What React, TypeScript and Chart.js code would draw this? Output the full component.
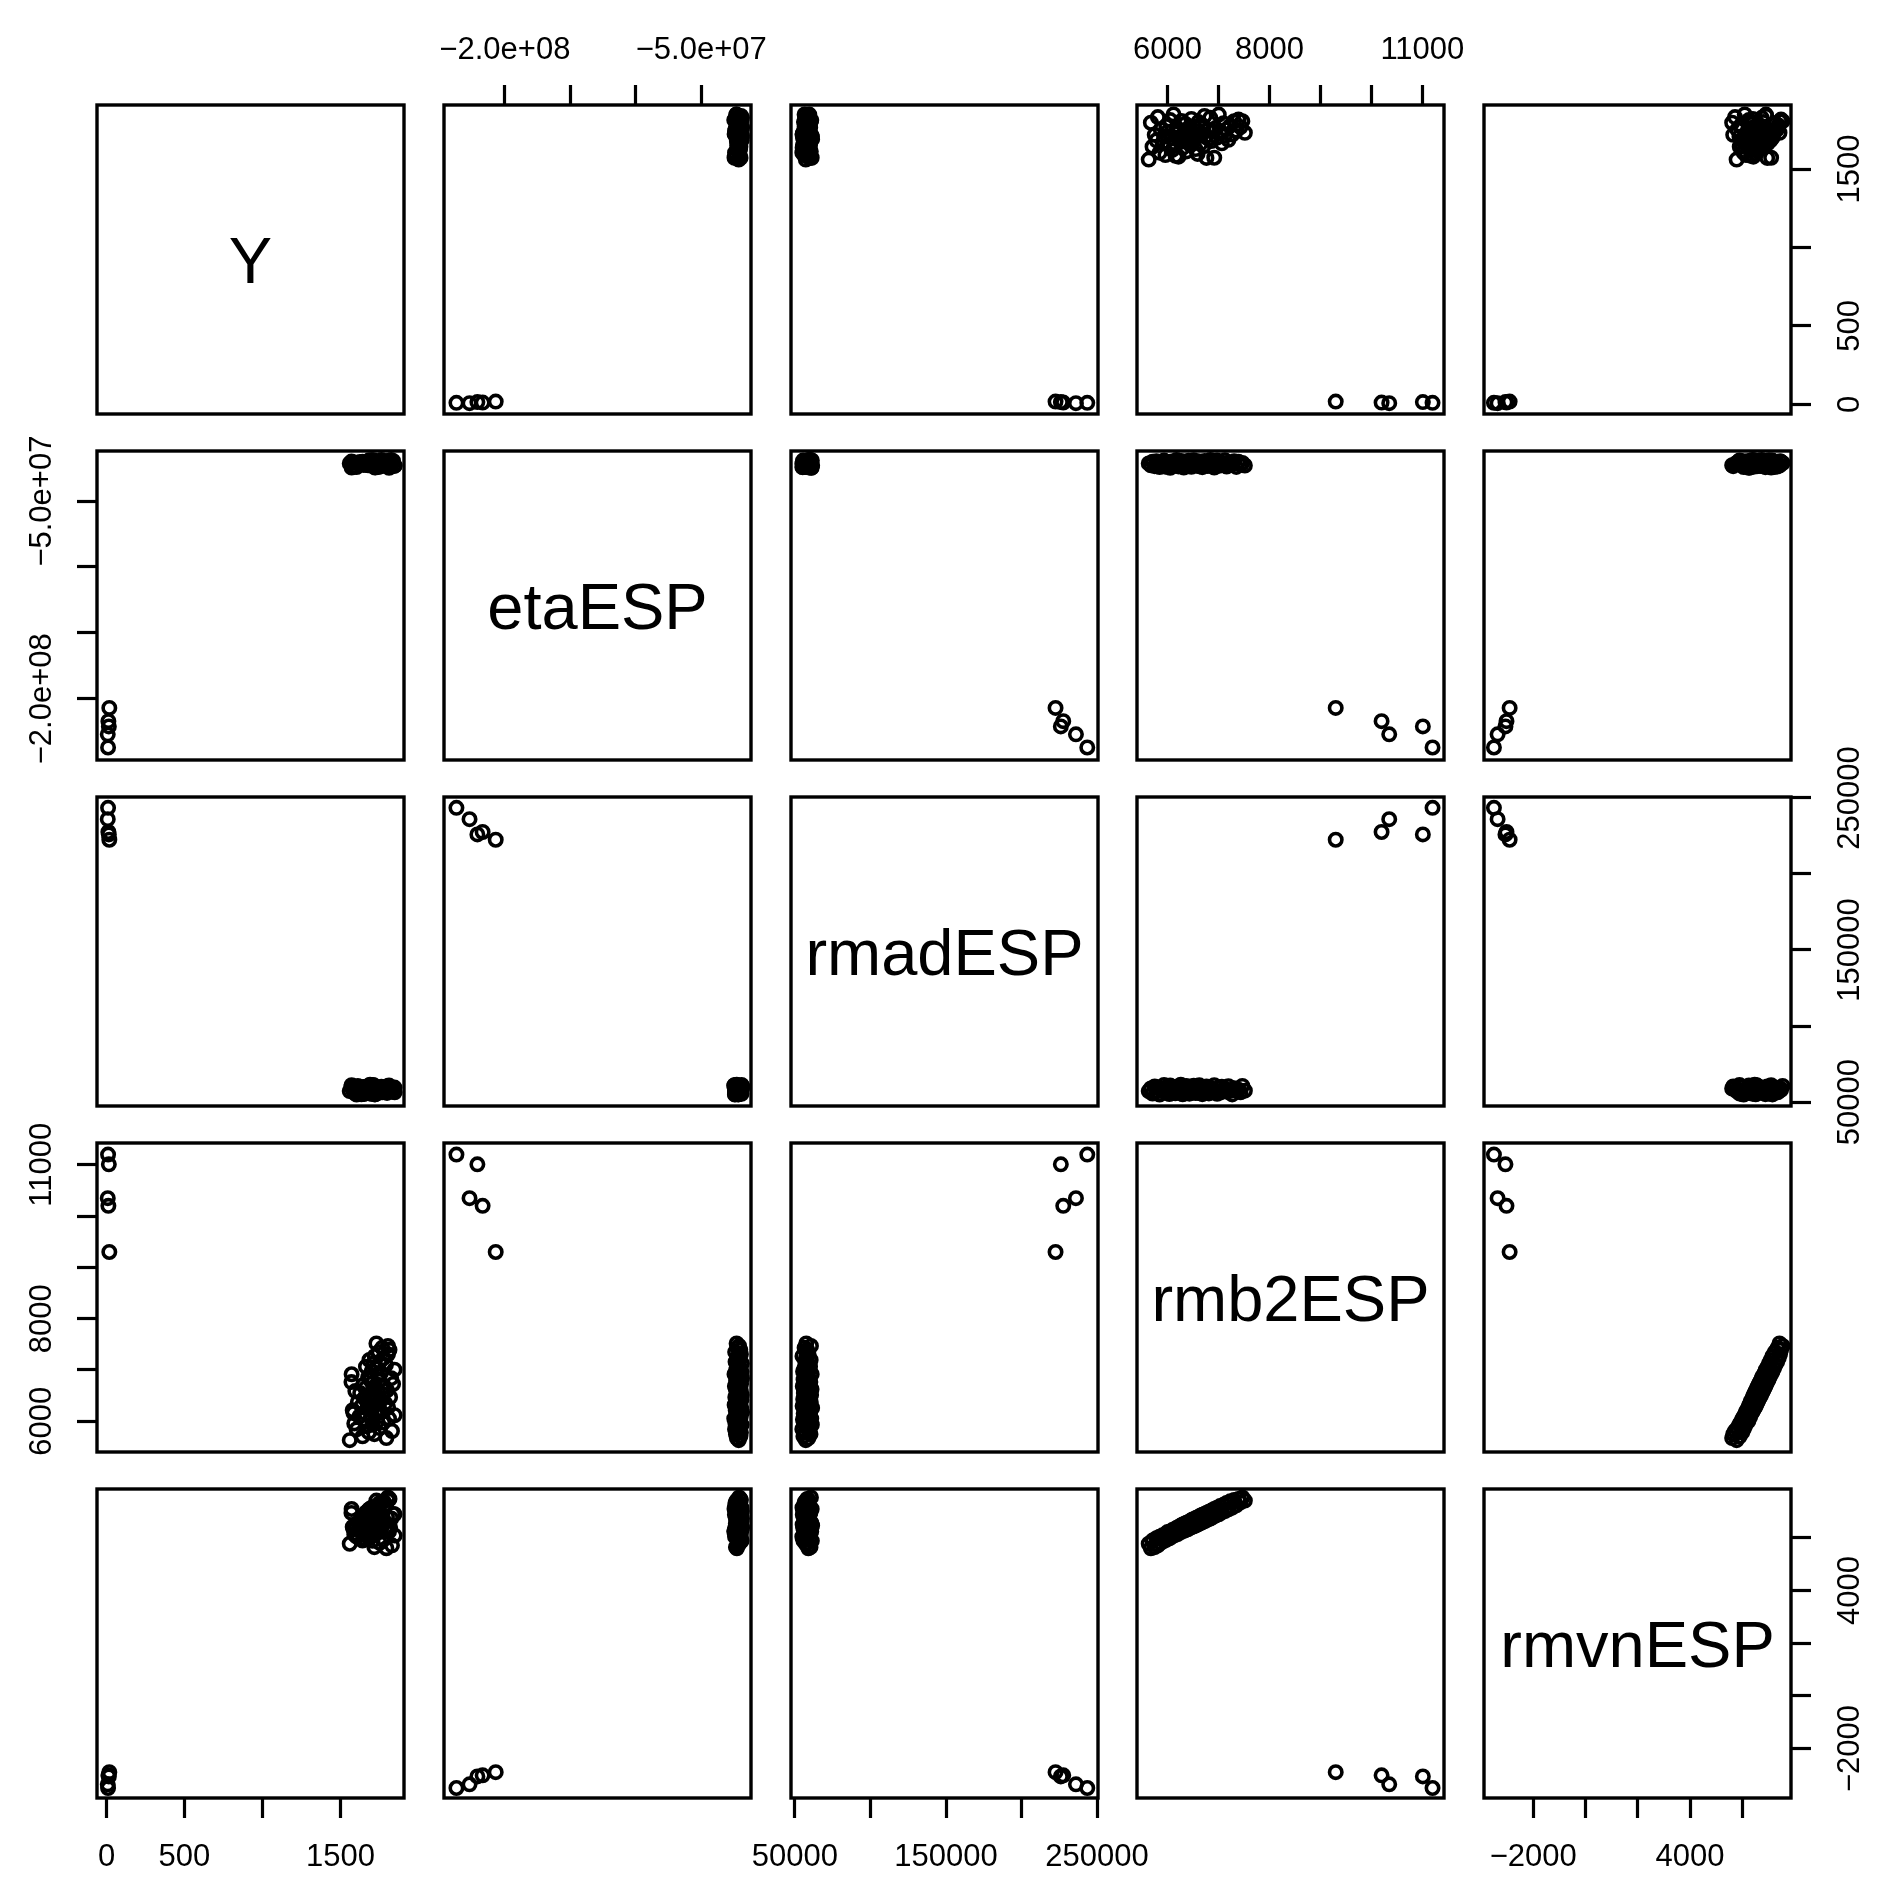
import React, { useEffect, useRef } from 'react';
import { Chart, registerables } from 'chart.js';

Chart.register(...registerables);

// ---------- data (75 regular observations + 5 outliers at the end) ----------
const variableNames = ['Y', 'etaESP', 'rmadESP', 'rmb2ESP', 'rmvnESP'];

const yValues = [
  1560, 1795, 1642, 1718, 1683, 1831, 1604, 1752, 1668, 1706,
  1589, 1774, 1737, 1650, 1812, 1695, 1622, 1848, 1728, 1661,
  1763, 1701, 1579, 1744, 1690, 1806, 1635, 1722, 1675, 1788,
  1612, 1757, 1698, 1733, 1653, 1819, 1710, 1684, 1769, 1627,
  1741, 1596, 1799, 1715, 1660, 1783, 1724, 1646, 1838, 1705,
  1571, 1748, 1691, 1826, 1678, 1739, 1572, 1761, 1700, 1847,
  1730, 1664, 1792, 1712, 1753, 1686, 1777, 1720, 1805, 1745,
  1815, 1768, 1805, 1731, 1584,
  18, 12, 8, 15, 10,
];

const etaValues = [
  -21.4e6, -22.8e6, -20.1e6, -23.5e6, -19.7e6, -21.9e6, -24.2e6, -20.6e6, -22.3e6, -19.2e6,
  -23.9e6, -21.1e6, -20.4e6, -22.6e6, -24.8e6, -19.9e6, -21.7e6, -23.1e6, -20.9e6, -22.0e6,
  -18.8e6, -21.3e6, -23.7e6, -20.2e6, -22.9e6, -19.5e6, -21.6e6, -24.5e6, -20.7e6, -22.4e6,
  -21.0e6, -23.3e6, -19.4e6, -22.1e6, -20.5e6, -24.0e6, -21.8e6, -19.1e6, -23.0e6, -20.3e6,
  -22.7e6, -21.2e6, -19.8e6, -23.6e6, -20.8e6, -22.2e6, -24.3e6, -21.5e6, -19.6e6, -22.5e6,
  -20.0e6, -23.4e6, -21.9e6, -18.9e6, -22.8e6, -20.6e6, -24.6e6, -21.0e6, -19.3e6, -23.2e6,
  -20.4e6, -22.0e6, -21.4e6, -19.0e6, -23.8e6, -20.9e6, -22.6e6, -21.7e6, -19.7e6, -24.1e6,
  -20.2e6, -22.3e6, -21.1e6, -23.0e6, -20.5e6,
  -207e6, -217e6, -227e6, -221e6, -237e6,
];

const rmadValues = [
  57200, 58900, 55600, 60300, 56800, 59400, 54900, 58100, 57700, 61200,
  56100, 59800, 58500, 55300, 60800, 57000, 58700, 56400, 59100, 55800,
  60100, 57500, 58300, 56600, 61400, 57900, 55100, 59600, 58000, 56900,
  60500, 57300, 58800, 55500, 59900, 57100, 56300, 60700, 58200, 55900,
  59200, 57600, 56000, 61000, 58600, 57400, 55200, 59700, 56700, 58400,
  60200, 57800, 55700, 59300, 56500, 58000, 61100, 57000, 55400, 59500,
  56200, 60000, 57900, 58700, 56800, 60400, 57300, 55000, 59000, 57600,
  58100, 56400, 60600, 57500, 59800,
  222500, 227600, 236000, 226000, 243500,
];

const rmb2Values = [
  5630, 5672, 5705, 5748, 5781, 5809, 5843, 5866, 5902, 5931,
  5958, 5974, 6003, 6035, 6051, 6078, 6094, 6117, 6139, 6152,
  6176, 6198, 6214, 6233, 6259, 6271, 6296, 6318, 6337, 6349,
  6372, 6395, 6411, 6428, 6452, 6467, 6489, 6513, 6531, 6548,
  6566, 6589, 6604, 6623, 6641, 6668, 6682, 6705, 6726, 6741,
  6763, 6788, 6812, 6839, 6861, 6887, 6916, 6943, 6972, 7005,
  7031, 7064, 7098, 7126, 7159, 7194, 7231, 7268, 7306, 7349,
  7392, 7431, 7468, 7517, 6157,
  9300, 10200, 10350, 11010, 11200,
];

const rmvnValues = [
  5780, 5610, 5900, 5650, 5990, 5720, 6050, 5810, 6100, 5890,
  6140, 5930, 6230, 5990, 6250, 6040, 6300, 6090, 6330, 6120,
  6380, 6150, 6420, 6210, 6470, 6230, 6510, 6270, 6540, 6300,
  6580, 6330, 6610, 6380, 6650, 6400, 6700, 6440, 6720, 6470,
  6770, 6510, 6800, 6550, 6840, 6580, 6880, 6620, 6910, 6650,
  6950, 6700, 7000, 6740, 7040, 6790, 7100, 6850, 7150, 6900,
  7210, 6970, 7260, 7020, 7330, 7090, 7390, 7150, 7440, 7240,
  7480, 7350, 7540, 7420, 6330,
  -2900, -3020, -3360, -3060, -3500,
];

// ---------- axes ----------
const yTicks = [0, 500, 1000, 1500];
const yTickLabels = ['0', '500', '', '1500'];
const etaTicks = [-2e8, -1.5e8, -1e8, -5e7];
const etaTickLabels = ['\u22122.0e+08', '', '', '\u22125.0e+07'];
const rmadTicks = [50000, 100000, 150000, 200000, 250000];
const rmadTickLabels = ['50000', '', '150000', '', '250000'];
const rmb2Ticks = [6000, 7000, 8000, 9000, 10000, 11000];
const rmb2TickLabels = ['6000', '', '8000', '', '', '11000'];
const rmvnTicks = [-2000, 0, 2000, 4000, 6000];
const rmvnTickLabels = ['\u22122000', '', '', '4000', ''];

const yRange = [-61, 1908];
const etaRange = [-2.465e8, -1.2e7];
const rmadRange = [47400, 250600];
const rmb2Range = [5400, 11425];
const rmvnRange = [-3880, 7860];

const variables = [
  { name: variableNames[0], values: yValues, ticks: yTicks, labels: yTickLabels, range: yRange },
  { name: variableNames[1], values: etaValues, ticks: etaTicks, labels: etaTickLabels, range: etaRange },
  { name: variableNames[2], values: rmadValues, ticks: rmadTicks, labels: rmadTickLabels, range: rmadRange },
  { name: variableNames[3], values: rmb2Values, ticks: rmb2Ticks, labels: rmb2TickLabels, range: rmb2Range },
  { name: variableNames[4], values: rmvnValues, ticks: rmvnTicks, labels: rmvnTickLabels, range: rmvnRange },
];

// ---------- layout ----------
const N = 5;
const panelLefts = [97, 444, 791, 1137, 1484];
const panelTops = [105, 451, 797, 1143, 1489];
const panelW = 307;
const panelH = 309;
const PAD = 100;
const W = panelW + 2 * PAD;
const H = panelH + 2 * PAD;
const FONT = '"Liberation Sans", Arial, Helvetica, sans-serif';
const TICK_FONT_SIZE = 31;
const DIAG_FONT_SIZE = 65;
const LABEL_DIST = 57;
const POINT_RADIUS = 6.2;
const POINT_LINE = 3.6;

function Panel({ row, col }: { row: number; col: number }) {
  const ref = useRef<HTMLCanvasElement | null>(null);

  useEffect(() => {
    const canvas = ref.current;
    if (!canvas) return;
    const xv = variables[col];
    const yv = variables[row];
    const diag = row === col;
    const showTop = row === 0 && col % 2 === 1;
    const showBottom = row === N - 1 && col % 2 === 0;
    const showLeft = col === 0 && row % 2 === 1;
    const showRight = col === N - 1 && row % 2 === 0;
    const showX = showTop || showBottom;
    const showY = showLeft || showRight;

    const data = diag ? [] : xv.values.map((x, i) => ({ x, y: yv.values[i] }));

    const axis = (vertical: boolean, shown: boolean, v: typeof xv) => ({
      type: 'linear' as const,
      display: shown,
      min: v.range[0],
      max: v.range[1],
      grid: {
        display: true,
        drawOnChartArea: false,
        drawTicks: true,
        tickLength: 20,
        tickWidth: 3.2,
        tickColor: '#000',
      },
      border: { display: false },
      ticks: { display: false },
      afterBuildTicks: (s: any) => {
        s.ticks = v.ticks.map((value) => ({ value }));
      },
      afterFit: (s: any) => {
        if (!shown) return;
        if (vertical) s.width = PAD;
        else s.height = PAD;
      },
    });

    const decor = {
      id: 'pairsDecor',
      afterDraw(chart: any) {
        const { ctx, chartArea: a } = chart;
        ctx.save();
        ctx.strokeStyle = '#000';
        ctx.lineWidth = 3.4;
        ctx.strokeRect(a.left, a.top, a.right - a.left, a.bottom - a.top);
        ctx.fillStyle = '#000';
        ctx.textAlign = 'center';
        ctx.textBaseline = 'alphabetic';
        if (diag) {
          ctx.font = `${DIAG_FONT_SIZE}px ${FONT}`;
          ctx.fillText(xv.name, (a.left + a.right) / 2, (a.top + a.bottom) / 2 + DIAG_FONT_SIZE * 0.358);
        }
        ctx.font = `${TICK_FONT_SIZE}px ${FONT}`;
        const capOff = TICK_FONT_SIZE * 0.358;
        if (showX) {
          const sx = chart.scales.x;
          xv.ticks.forEach((t, i) => {
            const lab = xv.labels[i];
            if (!lab) return;
            const px = sx.getPixelForValue(t);
            const cy = showTop ? a.top - LABEL_DIST : a.bottom + LABEL_DIST;
            ctx.fillText(lab, px, cy + capOff);
          });
        }
        if (showY) {
          const sy = chart.scales.y;
          yv.ticks.forEach((t, i) => {
            const lab = yv.labels[i];
            if (!lab) return;
            const py = sy.getPixelForValue(t);
            const cx = showLeft ? a.left - LABEL_DIST : a.right + LABEL_DIST;
            ctx.save();
            ctx.translate(cx, py);
            ctx.rotate(-Math.PI / 2);
            ctx.fillText(lab, 0, capOff);
            ctx.restore();
          });
        }
        ctx.restore();
      },
    };

    const chart = new Chart(canvas, {
      type: 'scatter',
      data: {
        datasets: [
          {
            data,
            pointRadius: POINT_RADIUS,
            pointBorderWidth: POINT_LINE,
            pointBorderColor: '#000',
            pointBackgroundColor: 'rgba(0,0,0,0)',
            pointStyle: 'circle',
            clip: false,
          } as any,
        ],
      },
      options: {
        responsive: false,
        animation: false,
        devicePixelRatio: 1,
        events: [],
        layout: {
          padding: {
            left: showLeft ? 0 : PAD,
            right: showRight ? 0 : PAD,
            top: showTop ? 0 : PAD,
            bottom: showBottom ? 0 : PAD,
          },
        },
        plugins: { legend: { display: false }, tooltip: { enabled: false } },
        scales: {
          x: { ...axis(false, showX, xv), position: showTop ? 'top' : 'bottom' } as any,
          y: { ...axis(true, showY, yv), position: showLeft ? 'left' : 'right' } as any,
        },
      },
      plugins: [decor],
    });
    return () => chart.destroy();
  }, [row, col]);

  return (
    <canvas
      ref={ref}
      width={W}
      height={H}
      style={{
        position: 'absolute',
        left: panelLefts[col] - PAD,
        top: panelTops[row] - PAD,
        width: W,
        height: H,
      }}
    />
  );
}

export default function App() {
  const cells: React.ReactNode[] = [];
  for (let r = 0; r < N; r++) {
    for (let c = 0; c < N; c++) {
      cells.push(<Panel key={`${r}-${c}`} row={r} col={c} />);
    }
  }
  return (
    <div
      style={{
        position: 'absolute',
        left: 0,
        top: 0,
        width: 1884,
        height: 1890,
        background: '#fff',
        overflow: 'hidden',
      }}
    >
      {cells}
    </div>
  );
}
